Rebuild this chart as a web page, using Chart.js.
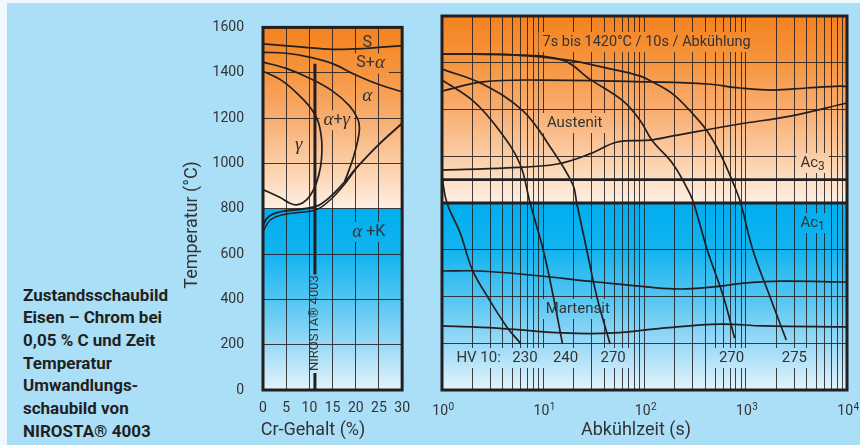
<!DOCTYPE html>
<html><head><meta charset="utf-8">
<script src="https://cdn.jsdelivr.net/npm/chart.js@4.4.1/dist/chart.umd.min.js"></script>
<style>
html,body{margin:0;padding:0;width:860px;height:445px;overflow:hidden;background:#eef8fd;}
#bg{position:absolute;left:7px;top:3px;width:853px;height:442px;background:#abdff8;}
#c1{position:absolute;left:180px;top:0;width:240px;height:445px;}
#c2{position:absolute;left:420px;top:0;width:440px;height:445px;}
#note{position:absolute;left:23px;top:283.5px;font:bold 17px Roboto,"Noto Sans",sans-serif;line-height:22.7px;color:#231f20;white-space:nowrap;}
</style></head><body>
<div id="bg"></div>
<div id="note">Zustandsschaubild<br>Eisen – Chrom bei<br>0,05 % C und Zeit<br>Temperatur<br>Umwandlungs-<br>schaubild von<br>NIROSTA® 4003</div>
<canvas id="c1" width="240" height="445"></canvas>
<canvas id="c2" width="440" height="445"></canvas>
<script>
// ---------- data ----------
const tempTicks = [0,200,400,600,800,1000,1200,1400,1600];
const crTicks = [0,5,10,15,20,25,30];
const timeMajor = [1,10,100,1000,10000];
const timeBase = '10';
const timeExponents = ['0','1','2','3','4'];
const AC1 = 800, AC3 = 900;

// Left panel: Fe-Cr diagram  [Cr %, T °C]
const liquidus   = [[0,1527],[8,1514],[15,1503],[22,1507],[30,1520]];
const solidus    = [[0,1490],[5,1486],[10,1469],[15,1440],[20,1390],[25,1348],[30,1316]];
const gammaOuter = [[0,1447],[5,1419],[10,1376],[15,1319],[18.6,1255],[20.4,1198],[20.8,1155],[20.4,1098],[19.5,1027],[18.5,968],[17.6,920]];
const gammaInner = [[0,1407],[4.3,1362],[7.9,1298],[10.4,1241],[11.9,1184],[12.6,1112],[12.7,1055],[12.4,984],[11.5,913],[10.1,856],[8.6,826],[7.2,817],[5.8,824],[3.6,850],[0,885]];
const carbideA   = [[0,727],[0.8,756],[2.2,777],[5,791],[9,800],[12,815],[15,862],[18,927],[20,977],[25,1084],[30,1177]];
const carbideB   = [[0,699],[1.5,749],[4.3,773],[10.7,791],[12.5,806],[15,848],[17.8,913],[20,975]];
const nirostaUpper = [[11.2,1440],[11.2,510]];
const nirostaLower = [[11.2,75],[11.2,0]];

// Right panel: ZTU diagram  [time s, T °C]
const cool230 = [[1,910],[1.12,800],[1.51,672],[2.0,513],[2.95,385],[4.37,270],[6.03,197]];
const cool240 = [[1,1326],[2.04,1236],[3.72,1108],[5.89,967],[7.41,800],[10,599],[12.6,398],[15.5,197]];
const cool270a = [[1,1373],[2.51,1309],[6.31,1194],[11.7,1040],[19.5,881],[21.4,800],[26.9,599],[33.9,398],[45.7,197]];
const cool270b = [[1,1437],[5.5,1433],[15.8,1410],[28.8,1330],[61.7,1236],[91.2,1151],[120,1065],[191,967],[282,838],[316,780],[417,599],[603,398],[776,222]];
const cool275 = [[1,1437],[5.5,1433],[17,1412],[42.7,1377],[91.2,1343],[115,1322],[191,1266],[302,1180],[417,1107],[562,1009],[759,881],[891,800],[1175,599],[1738,398],[2512,214]];
const ferriteUpper = [[1,1279],[2.51,1318],[9.3,1326],[112,1318],[417,1309],[871,1292],[1862,1283],[3981,1292],[8511,1300],[10000,1298]];
const ferriteLower = [[1,941],[4.37,950],[13.8,967],[28.8,1010],[53.7,1061],[112,1069],[191,1087],[871,1138],[2754,1172],[10000,1228]];
const msUpper = [[1,509],[2.34,509],[7.41,492],[33.9,462],[105,441],[224,432],[479,441],[1023,458],[2188,466],[10000,462]];
const msLower = [[1,274],[3.47,265],[15.8,244],[49,244],[151,265],[562,282],[1479,274],[10000,270]];
const ac3Line = [[1,AC3],[10000,AC3]];
const ac1Line = [[1,AC1],[10000,AC1]];
const hvTimes = [6.6,16.6,49,724,3020];
const hvValues = ['230','240','270','270','275'];

// ---------- style ----------
const INK = '#231f20';
const GRID = 'rgba(35,31,32,0.85)';
const TXT = '#333333';
const SANS = 'Roboto, "Noto Sans", sans-serif';
const SERIF = '"Liberation Serif", "DejaVu Serif", serif';
const sans = s => s + 'px ' + SANS;
const greek = s => 'italic ' + s + 'px ' + SERIF;

const leftLabels = [
  {x:22.5, y:1531, parts:[['S', sans(16)]]},
  {x:23.2, y:1441, parts:[['S+', sans(16)],['α', greek(19)]]},
  {x:22.5, y:1296, parts:[['α', greek(19)]]},
  {x:15.9, y:1190, parts:[['α', greek(19)],['+', sans(16)],['γ', greek(19)]]},
  {x:7.7,  y:1083, parts:[['γ', greek(19)]]},
  {x:22.8, y:697,  parts:[['α', greek(19)],[' +K', sans(16)]]}
];
const rightLabels = [
  {x:105, y:1489, parts:[['7s bis 1420°C / 10s / Abkühlung', sans(14.5)]]},
  {x:20.4, y:1142, parts:[['Austenit', sans(15)]]},
  {x:4571, y:971, parts:[['Ac', sans(15)],['3', sans(12), 4]]},
  {x:4571, y:714, parts:[['Ac', sans(15)],['1', sans(12), 4]]},
  {x:21.9, y:346, parts:[['Martensit', sans(15)]]},
  {x:2.3, y:137, pad:8, parts:[['HV 10:', sans(15)]]}
].concat(hvTimes.map((t,i)=>({x:t, y:137, pad:8, parts:[[hvValues[i], sans(15)]]})));

// ---------- helpers ----------
const toXY = a => a.map(([x,y])=>({x,y}));
function line(data, w){ return {data:toXY(data), borderColor:INK, borderWidth:w||1.7, pointRadius:0, tension:0.38, fill:false}; }

function paintPlotBg(chart){
  const {ctx, chartArea:a, scales:{y}} = chart;
  const yb = y.getPixelForValue(AC1);
  const g1 = ctx.createLinearGradient(0,a.top,0,yb);
  g1.addColorStop(0,'#f5821f'); g1.addColorStop(0.25,'#f6953f'); g1.addColorStop(0.5,'#f8ad70');
  g1.addColorStop(0.75,'#fbcda5'); g1.addColorStop(1,'#fef0e4');
  const g2 = ctx.createLinearGradient(0,yb,0,a.bottom);
  g2.addColorStop(0,'#00aeef'); g2.addColorStop(0.25,'#12b4f0'); g2.addColorStop(0.5,'#52c5f2');
  g2.addColorStop(0.75,'#9ad9f6'); g2.addColorStop(1,'#e2f4fc');
  ctx.fillStyle = g1; ctx.fillRect(a.left,a.top,a.width,yb-a.top);
  ctx.fillStyle = g2; ctx.fillRect(a.left,yb,a.width,a.bottom-yb);
}
function measure(ctx,l){ let w=0; for(const p of l.parts){ ctx.font=p[1]; w+=ctx.measureText(p[0]).width; } return w; }
function labelBox(chart,l){
  const {ctx, scales:{x,y}} = chart;
  const px = x.getPixelForValue(l.x), py = y.getPixelForValue(l.y);
  const w = measure(ctx,l), pad = l.pad!=null ? l.pad : 4, h = 20;
  ctx.save(); ctx.beginPath(); ctx.rect(px-w/2-pad, py-h/2, w+2*pad, h); ctx.clip();
  paintPlotBg(chart); ctx.restore();
}
function labelText(chart,l){
  const {ctx, scales:{x,y}} = chart;
  const px = x.getPixelForValue(l.x), py = y.getPixelForValue(l.y);
  const w = measure(ctx,l); let cx = px - w/2;
  ctx.save(); ctx.fillStyle = TXT; ctx.textBaseline = 'middle'; ctx.textAlign = 'left';
  for(const p of l.parts){ ctx.font=p[1]; ctx.fillText(p[0], cx, py + (p[2]||0)); cx += ctx.measureText(p[0]).width; }
  ctx.restore();
}
function deco(labels, titles){
  return {
    id:'deco',
    beforeDraw(chart){ paintPlotBg(chart); },
    beforeDatasetsDraw(chart){ labels.forEach(l=>labelBox(chart,l)); },
    afterDatasetsDraw(chart){
      const {ctx, chartArea:a} = chart;
      labels.forEach(l=>labelText(chart,l));
      ctx.save(); ctx.strokeStyle = INK; ctx.lineWidth = 3;
      ctx.strokeRect(a.left, a.top, a.width, a.height); ctx.restore();
      titles.forEach(t=>{
        ctx.save(); ctx.translate(t.x,t.y); ctx.rotate(t.rot||0);
        ctx.font = sans(18); ctx.fillStyle = TXT; ctx.textAlign='center'; ctx.textBaseline='middle';
        ctx.fillText(t.text,0,0); ctx.restore();
      });
    }
  };
}
const tickFont = {family:SANS, size:14};

// ---------- left chart ----------
new Chart(document.getElementById('c1'), {
  type:'line',
  data:{datasets:[
    line(liquidus), line(solidus), line(gammaOuter), line(gammaInner),
    line(carbideA,1.9), line(carbideB,1.5), line(nirostaUpper,3), line(nirostaLower,3)
  ]},
  options:{
    responsive:false, animation:false, events:[],
    layout:{padding:{left:0,right:17,top:16,bottom:0}},
    plugins:{legend:{display:false}, tooltip:{enabled:false}},
    scales:{
      x:{type:'linear', min:0, max:30, afterFit(s){s.height=55;},
         afterBuildTicks(s){ s.ticks = crTicks.map(v=>({value:v})); },
         grid:{color:GRID, lineWidth:1, drawTicks:false}, border:{display:false},
         ticks:{padding:10, font:tickFont, color:TXT, maxRotation:0, autoSkip:false, callback:v=>String(v)}},
      y:{type:'linear', min:0, max:1600, afterFit(s){s.width=83;},
         afterBuildTicks(s){ s.ticks = tempTicks.map(v=>({value:v})); },
         grid:{color:GRID, lineWidth:1, drawTicks:false}, border:{display:false},
         ticks:{padding:19, font:tickFont, color:TXT, autoSkip:false, callback:v=>String(v)}}
    }
  },
  plugins:[deco(leftLabels, [
    {text:'Temperatur (°C)', x:12, y:225, rot:-Math.PI/2},
    {text:'Cr-Gehalt (%)', x:133, y:430}
  ]), {
    id:'niro',
    afterDatasetsDraw(chart){
      const {ctx, scales:{x,y}} = chart;
      ctx.save(); ctx.translate(x.getPixelForValue(nirostaUpper[0][0]), y.getPixelForValue(295));
      ctx.rotate(-Math.PI/2); ctx.font = sans(13); ctx.fillStyle = TXT;
      ctx.textAlign='center'; ctx.textBaseline='middle'; ctx.fillText('NIROSTA® 4003',0,0); ctx.restore();
    }
  }]
});

// ---------- right chart ----------
new Chart(document.getElementById('c2'), {
  type:'line',
  data:{datasets:[
    line(cool230), line(cool240), line(cool270a), line(cool270b), line(cool275),
    line(ferriteUpper), line(ferriteLower), line(msUpper), line(msLower),
    line(ac3Line,2.8), line(ac1Line,3)
  ]},
  options:{
    responsive:false, animation:false, events:[],
    layout:{padding:{left:22,right:13,top:16,bottom:0}},
    plugins:{legend:{display:false}, tooltip:{enabled:false}},
    scales:{
      x:{type:'logarithmic', min:1, max:10000, afterFit(s){s.height=55;},
         afterBuildTicks(s){
           const t=[]; timeMajor.forEach((m,i)=>{ t.push({value:m}); if(i<timeMajor.length-1) for(let k=2;k<10;k++) t.push({value:m*k}); });
           s.ticks = t;
         },
         grid:{color:GRID, lineWidth:1, drawTicks:false}, border:{display:false},
         ticks:{display:false}},
      y:{type:'linear', min:0, max:1600, afterFit(s){s.width=0;},
         afterBuildTicks(s){ s.ticks = tempTicks.map(v=>({value:v})); },
         grid:{color:GRID, lineWidth:1, drawTicks:false}, border:{display:false},
         ticks:{display:false}}
    }
  },
  plugins:[deco(rightLabels, [
    {text:'Abkühlzeit (s)', x:216, y:430}
  ]), {
    id:'powTicks',
    afterDraw(chart){
      const {ctx, scales:{x}, chartArea:a} = chart;
      ctx.save(); ctx.fillStyle = TXT; ctx.textBaseline = 'alphabetic'; ctx.textAlign = 'left';
      timeMajor.forEach((v,i)=>{
        const px = x.getPixelForValue(v);
        ctx.font = sans(14); const wb = ctx.measureText(timeBase).width;
        ctx.font = sans(10); const we = ctx.measureText(timeExponents[i]).width;
        const left = px - (wb+we)/2 + 1;
        ctx.font = sans(14); ctx.fillText(timeBase, left, a.bottom + 25);
        ctx.font = sans(10); ctx.fillText(timeExponents[i], left + wb + 0.5, a.bottom + 20);
      });
      ctx.restore();
    }
  }]
});
</script>
</body></html>
